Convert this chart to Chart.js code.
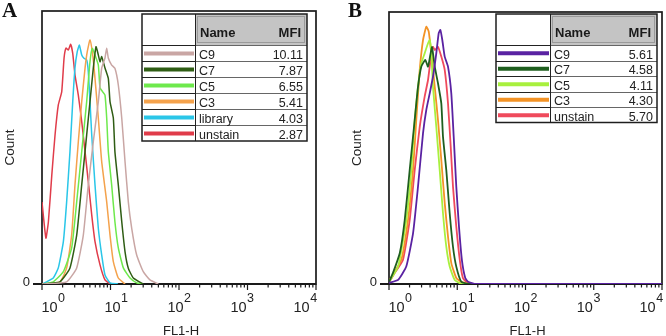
<!DOCTYPE html>
<html>
<head>
<meta charset="utf-8">
<script src="https://cdn.jsdelivr.net/npm/chart.js@4.4.0/dist/chart.umd.min.js"></script>
<style>
  html, body { margin: 0; padding: 0; background: #fff; }
  #wrap { position: relative; width: 666px; height: 336px; overflow: hidden; }
  canvas { position: absolute; top: 0; }
</style>
</head>
<body>
<div id="wrap">
  <canvas id="chartA" width="333" height="336" style="left:0"></canvas>
  <canvas id="chartB" width="333" height="336" style="left:333px"></canvas>
</div>
<script>
// x axis decades and their superscripts
const majorTicks = [1, 10, 100, 1000, 10000];
const majorExp = ["0", "1", "2", "3", "4"];
const minorSteps = [2, 3, 4, 5, 6, 7, 8, 9];

// ---- panel A ----
const namesA = ["C9", "C7", "C5", "C3", "library", "unstain"];
const mfiA = ["10.11", "7.87", "6.55", "5.41", "4.03", "2.87"];

const fl1A_C9 = [1.0, 2.29, 3.21, 4.01, 4.74, 5.61, 6.64, 7.44, 8.31, 8.80, 9.29, 10.4, 11.6, 13.0, 14.6, 16.3, 18.2, 20.4, 24.1, 30.1, 37.7, 49.9];
const countA_C9 = [0, 0.8, 5.9, 17.9, 36.3, 52.1, 66.8, 79.1, 82.8, 86.4, 82.8, 80.2, 79.0, 72.9, 60.7, 44.8, 30.1, 20.4, 10.6, 4.5, 1.5, 0];

const fl1A_C7 = [1.0, 1.83, 2.56, 3.21, 3.80, 4.49, 5.02, 5.61, 6.14, 6.64, 7.03, 7.44, 8.31, 9.29, 9.84, 11.0, 11.6, 13.0, 14.6, 16.3, 18.2, 21.5, 30.1];
const countA_C7 = [0, 0.8, 5.9, 17.9, 36.3, 54.6, 66.8, 79.1, 86.9, 83.9, 81.4, 83.3, 79.1, 75.3, 66.8, 60.8, 48.5, 36.3, 22.8, 11.8, 5.8, 2.2, 0];

const fl1A_C5 = [1.0, 1.46, 2.05, 2.71, 3.21, 3.80, 4.49, 5.02, 5.42, 5.94, 6.64, 7.03, 7.69, 8.31, 8.80, 9.29, 10.4, 11.6, 13.0, 15.4, 19.3, 24.1, 28.8];
const countA_C5 = [0, 0.8, 4.5, 13.2, 30.1, 48.5, 66.8, 81.4, 86.3, 83.9, 80.2, 71.8, 70.4, 69.2, 60.8, 48.5, 36.3, 22.8, 13.2, 5.9, 2.2, 0.4, 0];

const fl1A_C3 = [1.0, 1.83, 2.29, 2.71, 3.03, 3.39, 3.80, 4.25, 4.58, 5.02, 5.50, 5.94, 6.64, 7.44, 8.80, 9.84, 11.0, 13.0, 16.3];
const countA_C3 = [0, 0.8, 5.9, 17.9, 36.3, 52.1, 66.8, 79.1, 85.1, 89.4, 83.9, 75.3, 60.8, 44.8, 30.1, 17.9, 8.2, 2.2, 0];

const fl1A_library = [1.0, 1.17, 1.46, 1.73, 2.05, 2.29, 2.56, 2.81, 3.03, 3.27, 3.51, 3.80, 4.10, 4.49, 4.74, 5.02, 5.32, 5.94, 6.64, 7.44, 8.31, 9.84, 12.9];
const countA_library = [0, 0.8, 2.2, 5.9, 15.5, 30.1, 48.5, 66.8, 79.1, 85.1, 87.5, 83.9, 82.7, 82.1, 77.8, 66.8, 54.6, 36.3, 20.4, 10.6, 3.3, 0.4, 0];

const fl1A_unstain = [1.0, 1.14, 1.24, 1.39, 1.55, 1.73, 1.94, 2.10, 2.24, 2.42, 2.62, 2.81, 3.03, 3.39, 3.80, 4.25, 4.74, 5.32, 5.94, 7.03, 8.31, 9.84];
const countA_unstain = [30, 16.8, 22.8, 39.9, 54.6, 65.6, 70.4, 82.8, 86.4, 85.7, 87.8, 84.5, 76.6, 69.2, 59.5, 48.5, 37.5, 25.3, 15.5, 7.0, 1.5, 0];

// ---- panel B ----
const namesB = ["C9", "C7", "C5", "C3", "unstain"];
const mfiB = ["5.61", "4.58", "4.11", "4.30", "5.70"];

const fl1B_C9 = [1.0, 1.36, 1.79, 2.25, 2.66, 3.15, 3.52, 3.95, 4.41, 4.93, 5.35, 5.65, 6.04, 6.55, 7.32, 8.18, 8.87, 9.68, 10.6, 11.7, 13.1, 14.4, 18.8, 10000];
const countB_C9 = [0.4, 1.5, 6.4, 18.6, 35.8, 55.4, 64.0, 70.1, 76.2, 84.8, 92.2, 93.4, 89.7, 83.6, 79.9, 70.1, 54.2, 35.8, 21.1, 8.8, 2.2, 0.8, 0, 0];

const fl1B_C7 = [1.0, 1.14, 1.44, 1.70, 2.01, 2.38, 2.66, 2.97, 3.40, 3.73, 4.03, 4.27, 4.68, 5.22, 5.84, 6.18, 6.91, 7.75, 8.66, 9.68, 11.5, 15.4, 10000];
const countB_C7 = [0.7, 4.0, 11.4, 23.5, 41.9, 60.3, 72.5, 79.9, 82.4, 79.9, 84.2, 87.1, 79.9, 73.8, 66.4, 54.2, 41.9, 26.0, 13.7, 6.4, 0.8, 0, 0];

const fl1B_C5 = [1.0, 1.36, 1.79, 2.12, 2.38, 2.66, 2.97, 3.33, 3.73, 3.95, 4.17, 4.41, 4.93, 5.53, 6.18, 6.91, 7.75, 9.18, 11.7, 10000];
const countB_C5 = [0.7, 6.4, 23.5, 41.9, 60.3, 72.5, 81.1, 84.8, 88.5, 89.7, 84.8, 72.5, 57.8, 41.9, 26.0, 13.7, 6.4, 1.5, 0, 0];

const fl1B_C3 = [1.0, 1.51, 1.90, 2.25, 2.51, 2.82, 3.15, 3.52, 3.82, 4.17, 4.68, 5.22, 5.84, 6.55, 7.32, 8.18, 9.68, 11.4, 15.4, 10000];
const countB_C3 = [1.1, 8.8, 23.5, 41.9, 60.3, 78.7, 89.7, 94.6, 92.8, 84.8, 72.5, 60.3, 45.6, 29.8, 17.4, 7.7, 2.2, 0.8, 0, 0];

const fl1B_unstain = [1.0, 1.21, 1.60, 2.01, 2.38, 2.82, 3.33, 3.73, 4.17, 4.41, 4.68, 5.22, 5.84, 6.55, 7.32, 8.02, 8.66, 9.68, 10.9, 12.1, 13.6, 17.6, 10000];
const countB_unstain = [0.6, 4.0, 8.8, 23.5, 41.9, 57.8, 68.9, 75.0, 84.8, 87.2, 86.0, 87.2, 83.6, 78.7, 66.4, 50.5, 35.8, 21.1, 8.8, 2.2, 0.8, 0, 0];

const colorsA = ["#c9a6a4", "#2f5d14", "#6ee94c", "#f4a24c", "#2ac6e8", "#e03c4a"];
const colorsB = ["#5a22a2", "#1f5f1f", "#a8f03e", "#f39326", "#ef4a5c"];

const xA = [fl1A_C9, fl1A_C7, fl1A_C5, fl1A_C3, fl1A_library, fl1A_unstain];
const yA = [countA_C9, countA_C7, countA_C5, countA_C3, countA_library, countA_unstain];
const xB = [fl1B_C9, fl1B_C7, fl1B_C5, fl1B_C3, fl1B_unstain];
const yB = [countB_C9, countB_C7, countB_C5, countB_C3, countB_unstain];

const SANS = '"Liberation Sans", Arial, sans-serif';

const panelDecor = {
  id: 'panelDecor',
  beforeDatasetsDraw(chart, args, o) {
    const { ctx, chartArea: a, scales: { x, y } } = chart;
    const y0 = y.getPixelForValue(0);
    ctx.save();
    ctx.strokeStyle = '#1a1a1a';
    ctx.lineWidth = 1.7;
    ctx.strokeRect(a.left, a.top, a.right - a.left, a.bottom - a.top);

    // bottom axis, zero tick
    ctx.lineWidth = 2;
    ctx.beginPath();
    ctx.moveTo(a.left - 9, y0);
    ctx.lineTo(a.right, y0);
    ctx.stroke();

    // decade ticks and the 2..9 ticks in between
    ctx.lineWidth = 1.2;
    ctx.beginPath();
    majorTicks.forEach((v, i) => {
      const px = x.getPixelForValue(v);
      ctx.moveTo(px, y0);
      ctx.lineTo(px, y0 + 6);
      if (i < majorTicks.length - 1) {
        minorSteps.forEach(s => {
          const mx = x.getPixelForValue(v * s);
          ctx.moveTo(mx, y0);
          ctx.lineTo(mx, y0 + 3.5);
        });
      }
    });
    ctx.stroke();

    // tick labels 10^n
    ctx.fillStyle = '#222';
    ctx.textBaseline = 'alphabetic';
    const mid = (a.left + a.right) / 2;
    majorTicks.forEach((v, i) => {
      const px = x.getPixelForValue(v);
      const cx = mid + (px - mid) * 0.92;
      ctx.font = '14.5px ' + SANS;
      const w1 = ctx.measureText('10').width;
      ctx.font = '12.5px ' + SANS;
      const w2 = ctx.measureText(majorExp[i]).width;
      const sx = cx - (w1 + w2) / 2;
      ctx.font = '14.5px ' + SANS;
      ctx.textAlign = 'left';
      ctx.fillText('10', sx, 312);
      ctx.font = '12.5px ' + SANS;
      ctx.fillText(majorExp[i], sx + w1 + 0.5, 302);
    });

    // y zero label
    ctx.font = '13px ' + SANS;
    ctx.textAlign = 'right';
    ctx.textBaseline = 'middle';
    ctx.fillText('0', a.left - 12, y0 - 2);

    // axis titles
    ctx.textAlign = 'center';
    ctx.textBaseline = 'alphabetic';
    ctx.fillText('FL1-H', mid + 2, 335);
    ctx.save();
    ctx.translate(a.left - 28, (a.top + a.bottom) / 2);
    ctx.rotate(-Math.PI / 2);
    ctx.font = '13.5px ' + SANS;
    ctx.fillText('Count', 0, 0);
    ctx.restore();

    // panel letter
    ctx.fillStyle = '#111';
    ctx.font = 'bold 21px "Liberation Serif", "Times New Roman", serif';
    ctx.textAlign = 'left';
    ctx.fillText(o.letter, o.letterX, 17);
    ctx.restore();
  },
  afterDatasetsDraw(chart, args, o) {
    const { ctx } = chart;
    const t = o.table;
    const n = o.names.length;
    const bottom = t.yh + n * t.rowH;
    ctx.save();
    ctx.fillStyle = '#fff';
    ctx.fillRect(t.x0, t.y0, t.x2 - t.x0, bottom - t.y0);

    // grey header cell
    ctx.fillStyle = '#c4c4c4';
    ctx.fillRect(t.x1, t.y0, t.x2 - t.x1, t.yh - t.y0);
    ctx.strokeStyle = '#9a9a9a';
    ctx.lineWidth = 1;
    ctx.strokeRect(t.x1 + 2.5, t.y0 + 2.5, t.x2 - t.x1 - 5, t.yh - t.y0 - 5);

    // row separators (darker in the swatch column)
    ctx.lineWidth = 1;
    for (let r = 0; r < n; r++) {
      const yy = Math.round(t.yh + r * t.rowH) + 0.5;
      ctx.strokeStyle = '#222';
      ctx.beginPath();
      ctx.moveTo(t.x0, yy);
      ctx.lineTo(t.x1, yy);
      ctx.stroke();
      ctx.strokeStyle = '#666';
      ctx.beginPath();
      ctx.moveTo(t.x1, yy);
      ctx.lineTo(t.x2, yy);
      ctx.stroke();
    }
    ctx.strokeStyle = '#222';
    ctx.beginPath();
    ctx.moveTo(t.x1 + 0.5, t.y0);
    ctx.lineTo(t.x1 + 0.5, bottom);
    ctx.stroke();

    // swatches and text
    ctx.textBaseline = 'alphabetic';
    for (let r = 0; r < n; r++) {
      const top = t.yh + r * t.rowH;
      const cy = top + t.rowH / 2 + 0.5;
      ctx.strokeStyle = o.colors[r];
      ctx.lineWidth = 4;
      ctx.beginPath();
      ctx.moveTo(t.x0 + 2, cy);
      ctx.lineTo(t.x1 - 1, cy);
      ctx.stroke();

      ctx.fillStyle = '#222';
      ctx.font = '12.5px ' + SANS;
      ctx.textAlign = 'left';
      ctx.fillText(o.names[r], t.x1 + 4, top + t.rowH - 2);
      ctx.textAlign = 'right';
      ctx.fillText(o.mfi[r], t.x2 - 4, top + t.rowH - 2);
    }

    // header text
    ctx.fillStyle = '#1a1a1a';
    ctx.font = 'bold 13px ' + SANS;
    ctx.textAlign = 'left';
    ctx.fillText('Name', t.x1 + 5, t.yh - 8);
    ctx.textAlign = 'right';
    ctx.fillText('MFI', t.x2 - 6, t.yh - 8);

    // outer border
    ctx.strokeStyle = '#1e1e1e';
    ctx.lineWidth = 1.5;
    ctx.strokeRect(t.x0, t.y0, t.x2 - t.x0, bottom - t.y0);
    ctx.restore();
  }
};

function buildDatasets(names, colors, xs, ys, width) {
  return names.map((name, i) => ({
    label: name,
    data: xs[i].map((v, j) => ({ x: v, y: ys[i][j] })),
    borderColor: colors[i],
    backgroundColor: colors[i],
    borderWidth: width,
    pointRadius: 0,
    fill: false,
    tension: 0.15
  }));
}

function makePanel(id, names, colors, xs, ys, width, padding, decor) {
  return new Chart(document.getElementById(id), {
    type: 'line',
    data: { datasets: buildDatasets(names, colors, xs, ys, width) },
    options: {
      responsive: false,
      animation: false,
      events: [],
      layout: { padding: padding },
      plugins: {
        legend: { display: false },
        tooltip: { enabled: false },
        panelDecor: decor
      },
      scales: {
        x: { type: 'logarithmic', min: 1, max: 10000, display: false },
        y: { type: 'linear', min: 0, max: 100, display: false }
      }
    },
    plugins: [panelDecor]
  });
}

makePanel('chartA', namesA, colorsA, xA, yA, 1.5,
  { left: 42, top: 11, right: 17, bottom: 52 },
  { letter: 'A', letterX: 2, names: namesA, mfi: mfiA, colors: colorsA,
    table: { x0: 142, x1: 195, x2: 307, y0: 14, yh: 45, rowH: 16 } });

makePanel('chartB', namesB, colorsB, xB, yB, 1.8,
  { left: 56, top: 12, right: 4, bottom: 52 },
  { letter: 'B', letterX: 15, names: namesB, mfi: mfiB, colors: colorsB,
    table: { x0: 163, x1: 217, x2: 324, y0: 14, yh: 45, rowH: 15.5 } });
</script>
</body>
</html>
